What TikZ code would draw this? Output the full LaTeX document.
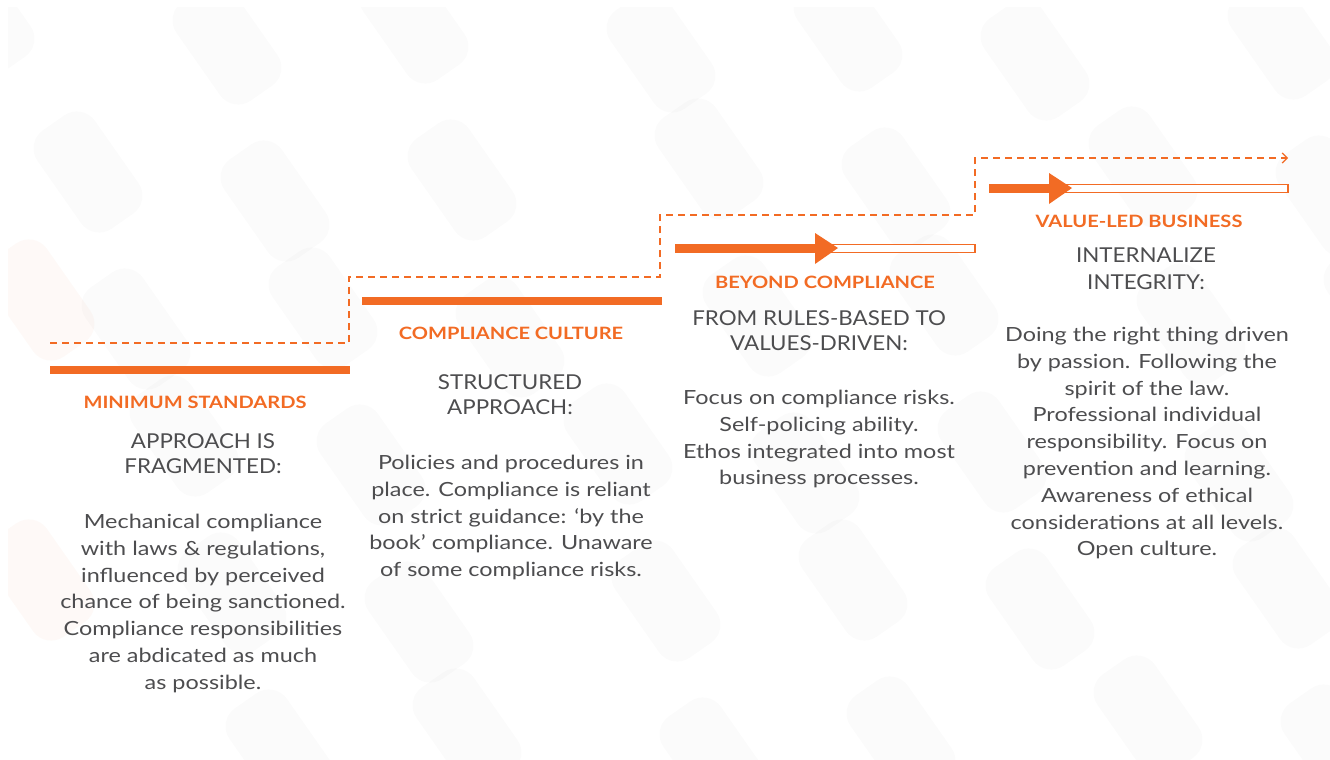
\documentclass[tikz,border=0pt]{standalone}
\usepackage{fontspec}
\setmainfont{Lato}
\newfontfamily\bodyf{Lato}[FakeStretch=1.2]
\newfontfamily\subf{Lato}[FakeStretch=1.09]
\newfontfamily\headf{Lato}[FakeStretch=1.18]
\usetikzlibrary{arrows.meta}
\definecolor{orng}{HTML}{F26B24}
\definecolor{txt}{HTML}{4D4D4F}
\begin{document}
\begin{tikzpicture}[x=1pt,y=-1pt,
  bar/.style={orng, line width=8pt},
  dashline/.style={orng, line width=1.3pt, dash pattern=on 7pt off 5pt},
  head/.style={orng, inner sep=0pt, anchor=north, font=\headf\fontsize{17}{20}\selectfont\bfseries},
  sub/.style={txt, inner sep=0pt, anchor=north, align=center, font=\subf\fontsize{20.5}{25.5}\selectfont},
  body/.style={txt, inner sep=0pt, anchor=north, align=center, font=\bodyf\fontsize{19.5}{26.8}\selectfont},
  hollow/.style={draw=orng, fill=white, line width=1.3pt},
  tri/.style={fill=orng, draw=none},
  tile/.style={rounded corners=22pt, fill=black, fill opacity=0.014, draw=none}]
\useasboundingbox (0,0) rectangle (1330,760);
\fill[white] (0,0) rectangle (1330,760);

% faint background texture
\begin{scope}
\clip (8,8) rectangle (1330,760);
\foreach \i in {0,...,6}{
  \foreach \j in {0,...,5}{
    \pgfmathsetmacro{\xx}{\i*210+\j*55-80+mod(\i*37+\j*53,60)}
    \pgfmathsetmacro{\yy}{\j*140-20+mod(\i*29+\j*17,50)}
    \fill[tile, rotate around={-55:(\xx+60,\yy+35)}]
      (\xx,\yy) rectangle ++(120,70);
  }
}
\fill[orng, fill opacity=0.035, rounded corners=22pt, rotate around={-55:(40,580)}] (-20,545) rectangle ++(120,70);
\fill[orng, fill opacity=0.035, rounded corners=22pt, rotate around={-55:(40,300)}] (-20,265) rectangle ++(120,70);
\end{scope}

% steps
\draw[bar] (50,370) coordinate (b1s) -- (350,370) coordinate (b1e);
\draw[bar] (362,301) coordinate (b2s) -- (662,301) coordinate (b2e);

% arrow 3
\fill[hollow] (830,244.5) rectangle (975,252.5);
\draw[orng, line width=9pt] (675,248) coordinate (a3s) -- (818,248);
\fill[tri] (815,233) -- (838,248) coordinate (a3t) -- (815,264) -- cycle;

% arrow 4
\fill[hollow] (1065,184.5) rectangle (1288,192.5);
\draw[orng, line width=9pt] (989,188) coordinate (a4s) -- (1052,188);
\fill[tri] (1049,173) -- (1072,188) coordinate (a4t) -- (1049,204) -- cycle;

% dashed staircase
\coordinate (d0) at (50,343);
\coordinate (d1) at (349,343);
\coordinate (d2) at (349,277);
\coordinate (d3) at (660,277);
\coordinate (d4) at (660,215);
\coordinate (d5) at (975,215);
\coordinate (d6) at (975,158);
\coordinate (d7) at (1288,158);
\draw[dashline, -{Straight Barb[length=5pt,width=10pt,line width=1.2pt]}] (d0) -- (d1) -- (d2) -- (d3) -- (d4) -- (d5) -- (d6) -- (d7);

% column 1
\node[head] (h1) at (195,396) {MINIMUM STANDARDS};
\node[sub] (s1) at (203,433) {APPROACH IS\\FRAGMENTED:};
\node[body] (t1) at (203,514) {Mechanical compliance\\with laws \& regulations,\\influenced by perceived\\chance of being sanctioned.\\Compliance responsibilities\\are abdicated as much\\as possible.};

% column 2
\node[head] (h2) at (511,327) {COMPLIANCE CULTURE};
\node[sub] (s2) at (510,374) {STRUCTURED\\APPROACH:};
\node[body] (t2) at (511,455) {Policies and procedures in\\place. Compliance is reliant\\on strict guidance: ‘by the\\book’ compliance. Unaware\\of some compliance risks.};

% column 3
\node[head] (h3) at (825,276) {BEYOND COMPLIANCE};
\node[sub] (s3) at (819,310) {FROM RULES-BASED TO\\VALUES-DRIVEN:};
\node[body] (t3) at (819,390) {Focus on compliance risks.\\Self-policing ability.\\Ethos integrated into most\\business processes.};

% column 4
\node[head] (h4) at (1139,215) {VALUE-LED BUSINESS};
\node[sub, font=\subf\fontsize{20.5}{27}\selectfont] (s4) at (1146,248) {INTERNALIZE\\INTEGRITY:};
\node[body] (t4) at (1147,327) {Doing the right thing driven\\by passion. Following the\\spirit of the law.\\Professional individual\\responsibility. Focus on\\prevention and learning.\\Awareness of ethical\\considerations at all levels.\\Open culture.};
\end{tikzpicture}
\end{document}
